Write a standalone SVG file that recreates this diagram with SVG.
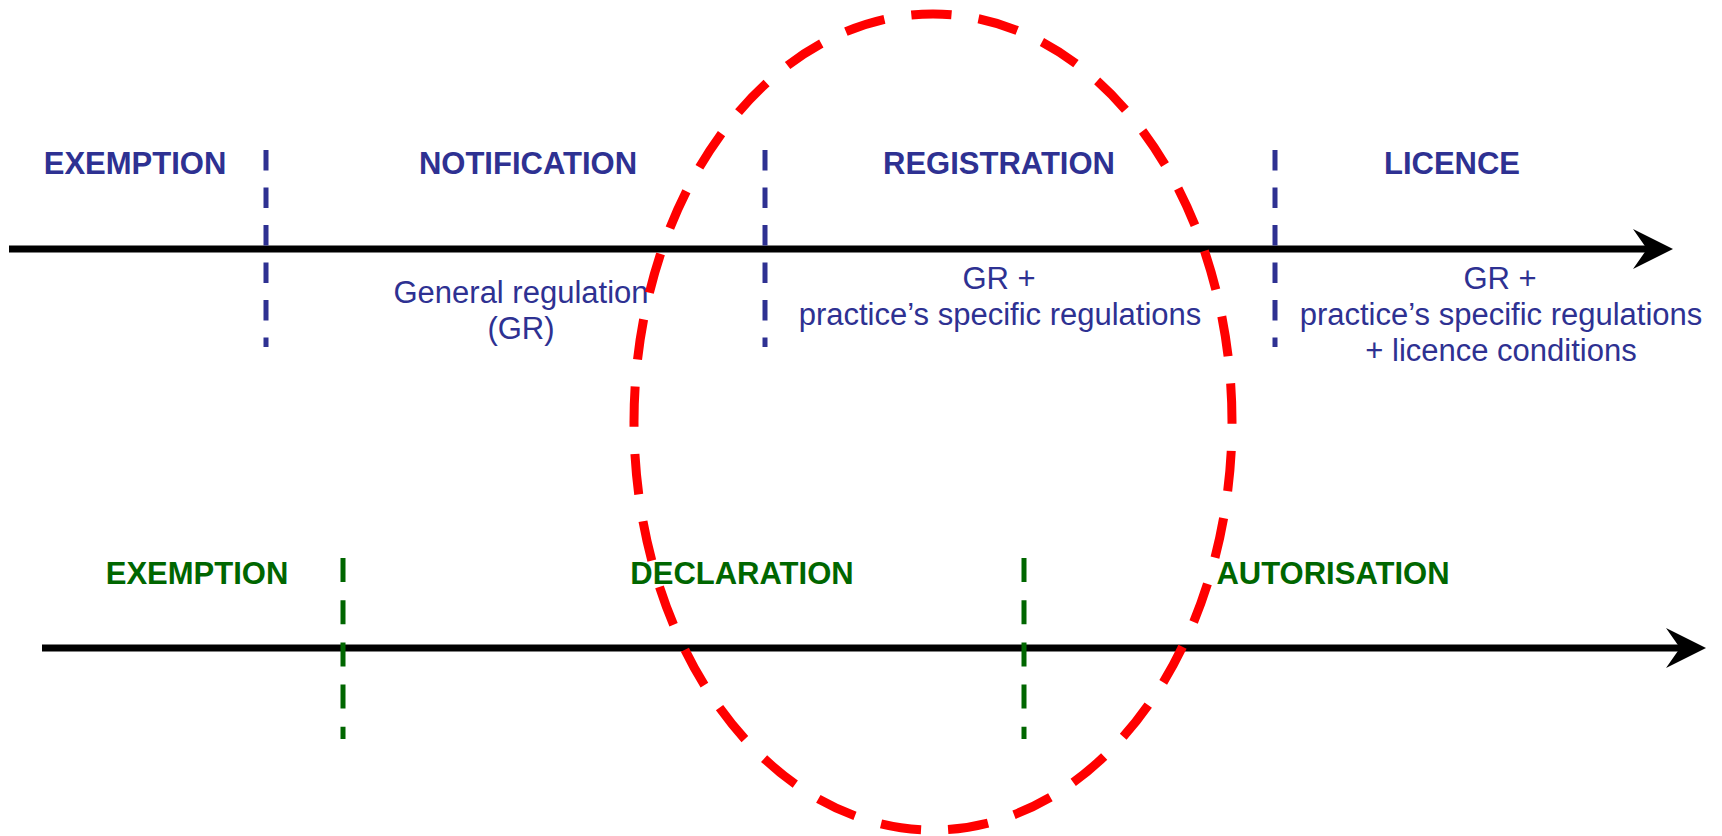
<svg xmlns="http://www.w3.org/2000/svg" width="1722" height="836" viewBox="0 0 1722 836">
  <defs>
    <marker id="arrow" viewBox="0 0 40 40" refX="14" refY="20" markerWidth="40" markerHeight="40" markerUnits="userSpaceOnUse" orient="auto">
      <path d="M0,0 L40,20 L0,40 L14,20 Z" fill="#000"/>
    </marker>
    <style>
      .axis { stroke: #000; stroke-width: 7; fill: none; }
      .divN { stroke: #2E3192; stroke-width: 5; stroke-dasharray: 20.5 17; }
      .divG { stroke: #006600; stroke-width: 5; stroke-dasharray: 24 18.2; }
      .head { font-family: "Liberation Sans", Arial, sans-serif; font-weight: bold; font-size: 31px; text-anchor: middle; }
      .body { font-family: "Liberation Sans", Arial, sans-serif; font-size: 31px; text-anchor: middle; fill: #2E3192; }
      .navy { fill: #2E3192; }
      .green { fill: #006600; }
      .ring { fill: none; stroke: #FF0000; stroke-width: 9; stroke-dasharray: 40 27; stroke-dashoffset: 38.3; }
    </style>
  </defs>
  <rect width="1722" height="836" fill="#fff"/>

  <g id="connectors">
    <line class="axis" x1="9" y1="249" x2="1647" y2="249" marker-end="url(#arrow)"/>
    <line class="axis" x1="42" y1="648" x2="1680" y2="648" marker-end="url(#arrow)"/>
  </g>

  <g id="dividers">
    <line class="divN" x1="266" y1="150" x2="266" y2="347"/>
    <line class="divN" x1="765" y1="150" x2="765" y2="347"/>
    <line class="divN" x1="1275" y1="150" x2="1275" y2="347"/>
    <line class="divG" x1="343" y1="558" x2="343" y2="739"/>
    <line class="divG" x1="1024" y1="558" x2="1024" y2="739"/>
  </g>

  <g id="exemption-top"><text class="head navy" x="135" y="174">EXEMPTION</text></g>
  <g id="notification">
    <text class="head navy" x="528" y="174">NOTIFICATION</text>
    <text class="body" x="521" y="303">General regulation</text>
    <text class="body" x="521" y="339">(GR)</text>
  </g>
  <g id="registration">
    <text class="head navy" x="999" y="174">REGISTRATION</text>
    <text class="body" x="999" y="289">GR +</text>
    <text class="body" x="1000" y="325">practice’s specific regulations</text>
  </g>
  <g id="licence">
    <text class="head navy" x="1452" y="174">LICENCE</text>
    <text class="body" x="1500" y="289">GR +</text>
    <text class="body" x="1501" y="325">practice’s specific regulations</text>
    <text class="body" x="1501" y="361">+ licence conditions</text>
  </g>

  <g id="exemption-bottom"><text class="head green" x="197" y="584">EXEMPTION</text></g>
  <g id="declaration"><text class="head green" x="742" y="584">DECLARATION</text></g>
  <g id="autorisation"><text class="head green" x="1333" y="584">AUTORISATION</text></g>

  <g id="highlight">
    <ellipse class="ring" cx="933" cy="422" rx="299" ry="408" pathLength="2211"/>
  </g>
</svg>
